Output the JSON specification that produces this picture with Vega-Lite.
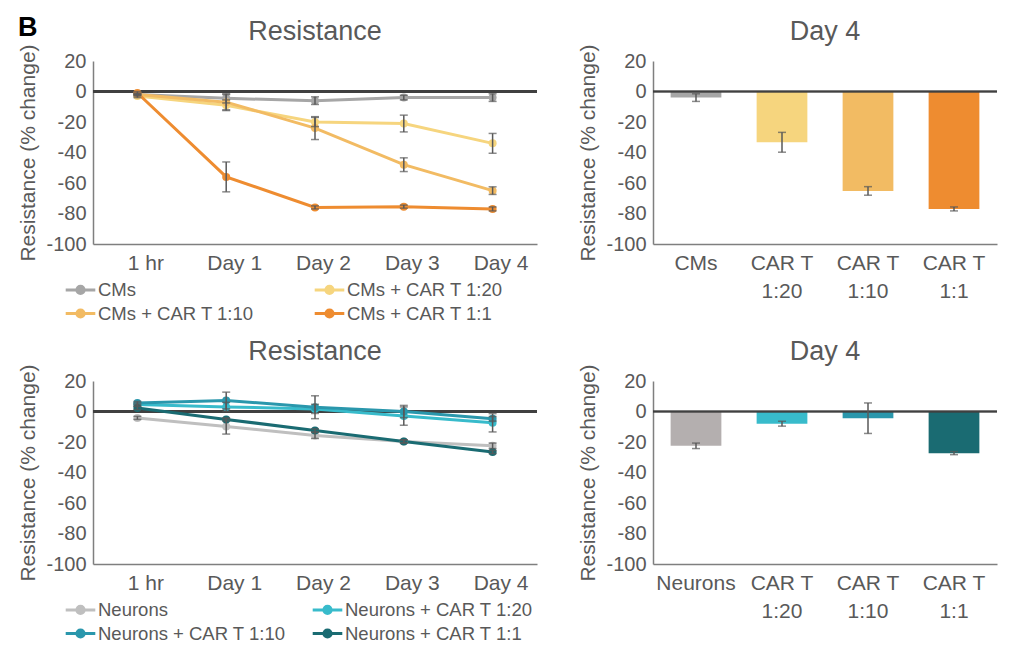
{
  "$schema": "https://vega.github.io/schema/vega-lite/v6.json",
  "background": "white",
  "padding": {"left": 17, "top": 14, "right": 5, "bottom": 5},
  "title": {"text": "B", "anchor": "start", "frame": "bounds", "fontSize": 27, "fontWeight": "bold", "color": "#000000", "offset": -24},
  "config": {
    "font": "Liberation Sans",
    "view": {"stroke": null},
    "axis": {
      "labelFontSize": 20, "labelColor": "#595959",
      "titleFontSize": 21, "titleFontWeight": "normal", "titleColor": "#595959",
      "domainColor": "#7f7f7f", "domainWidth": 1.5, "ticks": false, "grid": false
    },
    "axisY": {"labelPadding": 7, "titlePadding": 7, "labelExpr": "'' + datum.value"},
    "axisX": {"labelPadding": 8, "labelAngle": 0, "title": null, "labelFontSize": 21},
    "title": {"fontSize": 27, "fontWeight": "normal", "color": "#595959", "offset": -2.5},
    "legend": {
      "orient": "none", "columns": 2, "title": null, "padding": 0,
      "symbolType": "M-1.85,0L1.85,0M-0.45,0A0.45,0.45,0,1,1,0.45,0A0.45,0.45,0,1,1,-0.45,0",
      "symbolSize": 256, "symbolStrokeWidth": 3,
      "labelFontSize": 18.5, "labelColor": "#595959", "labelOffset": 8, "labelLimit": 400,
      "rowPadding": 3
    }
  },
  "datasets": {
    "cms": [
      {"t": "1 hr", "g": "CMs", "v": -2, "e": 0.5},
      {"t": "Day 1", "g": "CMs", "v": -4.5, "e": 3},
      {"t": "Day 2", "g": "CMs", "v": -6, "e": 2.5},
      {"t": "Day 3", "g": "CMs", "v": -4, "e": 1.5},
      {"t": "Day 4", "g": "CMs", "v": -4, "e": 2.5},
      {"t": "1 hr", "g": "CMs + CAR T 1:20", "v": -3, "e": 1},
      {"t": "Day 1", "g": "CMs + CAR T 1:20", "v": -9, "e": 3.5},
      {"t": "Day 2", "g": "CMs + CAR T 1:20", "v": -20, "e": 3},
      {"t": "Day 3", "g": "CMs + CAR T 1:20", "v": -21, "e": 5.5},
      {"t": "Day 4", "g": "CMs + CAR T 1:20", "v": -34, "e": 6.5},
      {"t": "1 hr", "g": "CMs + CAR T 1:10", "v": -2, "e": 1},
      {"t": "Day 1", "g": "CMs + CAR T 1:10", "v": -7, "e": 5},
      {"t": "Day 2", "g": "CMs + CAR T 1:10", "v": -24, "e": 7.5},
      {"t": "Day 3", "g": "CMs + CAR T 1:10", "v": -48, "e": 4.5},
      {"t": "Day 4", "g": "CMs + CAR T 1:10", "v": -65, "e": 2.5},
      {"t": "1 hr", "g": "CMs + CAR T 1:1", "v": -1, "e": 1},
      {"t": "Day 1", "g": "CMs + CAR T 1:1", "v": -56, "e": 9.8},
      {"t": "Day 2", "g": "CMs + CAR T 1:1", "v": -76, "e": 1},
      {"t": "Day 3", "g": "CMs + CAR T 1:1", "v": -75.5, "e": 1},
      {"t": "Day 4", "g": "CMs + CAR T 1:1", "v": -77, "e": 1.3}
    ],
    "neu": [
      {"t": "1 hr", "g": "Neurons", "v": -4.2, "e": 1},
      {"t": "Day 1", "g": "Neurons", "v": -9.8, "e": 5},
      {"t": "Day 2", "g": "Neurons", "v": -15.7, "e": 2},
      {"t": "Day 3", "g": "Neurons", "v": -19.6, "e": 1},
      {"t": "Day 4", "g": "Neurons", "v": -22.5, "e": 1.8},
      {"t": "1 hr", "g": "Neurons +  CAR T 1:20", "v": 4.6, "e": 1},
      {"t": "Day 1", "g": "Neurons +  CAR T 1:20", "v": 3, "e": 3},
      {"t": "Day 2", "g": "Neurons +  CAR T 1:20", "v": 1.7, "e": 3},
      {"t": "Day 3", "g": "Neurons +  CAR T 1:20", "v": -3, "e": 6},
      {"t": "Day 4", "g": "Neurons +  CAR T 1:20", "v": -7.4, "e": 6},
      {"t": "1 hr", "g": "Neurons +  CAR T 1:10", "v": 5.6, "e": 1},
      {"t": "Day 1", "g": "Neurons +  CAR T 1:10", "v": 7.2, "e": 5.5},
      {"t": "Day 2", "g": "Neurons +  CAR T 1:10", "v": 2.8, "e": 7.5},
      {"t": "Day 3", "g": "Neurons +  CAR T 1:10", "v": 0, "e": 4},
      {"t": "Day 4", "g": "Neurons +  CAR T 1:10", "v": -4.8, "e": 1.5},
      {"t": "1 hr", "g": "Neurons +  CAR T 1:1", "v": 2.3, "e": 1},
      {"t": "Day 1", "g": "Neurons +  CAR T 1:1", "v": -5.2, "e": 1},
      {"t": "Day 2", "g": "Neurons +  CAR T 1:1", "v": -12.4, "e": 1},
      {"t": "Day 3", "g": "Neurons +  CAR T 1:1", "v": -19.6, "e": 1},
      {"t": "Day 4", "g": "Neurons +  CAR T 1:1", "v": -26.6, "e": 1}
    ],
    "cmsBar": [
      {"g": "CMs", "v": -4, "e": 2.5},
      {"g": "CAR T|1:20", "v": -33.3, "e": 6.5},
      {"g": "CAR T|1:10", "v": -65.2, "e": 2.8},
      {"g": "CAR T|1:1", "v": -77, "e": 1.3}
    ],
    "neuBar": [
      {"g": "Neurons", "v": -22.5, "e": 1.8},
      {"g": "CAR T|1:20", "v": -8, "e": 1.6},
      {"g": "CAR T|1:10", "v": -4.4, "e": 10},
      {"g": "CAR T|1:1", "v": -27.3, "e": 1}
    ]
  },
  "bounds": "flush",
  "spacing": 320,
  "resolve": {"scale": {"color": "independent"}},
  "vconcat": [
    {
      "bounds": "flush",
      "spacing": 116,
      "resolve": {"scale": {"color": "independent"}},
      "hconcat": [
        {
          "width": 444, "height": 183,
          "title": "Resistance",
          "data": {"name": "cms"},
          "encoding": {
            "x": {"field": "t", "type": "ordinal", "sort": null, "scale": {"type": "point", "padding": 0.5}, "axis": {"labelOffset": 8}},
            "y": {"field": "v", "type": "quantitative", "scale": {"domain": [-100, 20], "nice": false},
                  "axis": {"values": [-100, -80, -60, -40, -20, 0, 20], "title": "Resistance (% change)"}}
          },
          "layer": [
            {"mark": {"type": "rule", "color": "#404040", "strokeWidth": 1.5}, "encoding": {"x": null, "y": {"datum": 0, "type": "quantitative"}}},
            {
              "mark": {"type": "line", "strokeWidth": 3, "point": {"filled": true, "size": 64}},
              "encoding": {
                "color": {"field": "g", "type": "nominal",
                  "scale": {"domain": ["CMs", "CMs + CAR T 1:10", "CMs + CAR T 1:20", "CMs + CAR T 1:1"],
                            "range": ["#a6a6a6", "#f2bb63", "#f6d57e", "#ee8c30"]},
                  "legend": {"legendX": -22, "legendY": 219, "columnPadding": 54}}
              }
            },
            {
              "mark": {"type": "errorbar", "ticks": {"size": 8}, "thickness": 1.5, "color": "#595959"},
              "encoding": {"yError": {"field": "e"}}
            }
          ]
        },
        {
          "width": 344, "height": 183,
          "title": "Day 4",
          "data": {"name": "cmsBar"},
          "encoding": {
            "x": {"field": "g", "type": "nominal", "sort": null, "scale": {"paddingInner": 0.41, "paddingOuter": 0.205},
                  "axis": {"labelExpr": "split(datum.value, '|')", "labelLineHeight": 28}},
            "y": {"field": "v", "type": "quantitative", "scale": {"domain": [-100, 20], "nice": false},
                  "axis": {"values": [-100, -80, -60, -40, -20, 0, 20], "title": "Resistance (% change)"}}
          },
          "layer": [
            {
              "mark": {"type": "bar"},
              "encoding": {
                "color": {"field": "g", "type": "nominal", "legend": null,
                  "scale": {"domain": ["CMs", "CAR T|1:20", "CAR T|1:10", "CAR T|1:1"],
                            "range": ["#a6a6a6", "#f6d57e", "#f2bb63", "#ee8c30"]}}
              }
            },
            {"mark": {"type": "rule", "color": "#404040", "strokeWidth": 1.5}, "encoding": {"x": null, "y": {"datum": 0, "type": "quantitative"}}},
            {
              "mark": {"type": "errorbar", "ticks": {"size": 8}, "thickness": 1.5, "color": "#595959"},
              "encoding": {"yError": {"field": "e"}}
            }
          ]
        }
      ]
    },
    {
      "bounds": "flush",
      "spacing": 116,
      "resolve": {"scale": {"color": "independent"}},
      "hconcat": [
        {
          "width": 444, "height": 183,
          "title": "Resistance",
          "data": {"name": "neu"},
          "encoding": {
            "x": {"field": "t", "type": "ordinal", "sort": null, "scale": {"type": "point", "padding": 0.5}, "axis": {"labelOffset": 8}},
            "y": {"field": "v", "type": "quantitative", "scale": {"domain": [-100, 20], "nice": false},
                  "axis": {"values": [-100, -80, -60, -40, -20, 0, 20], "title": "Resistance (% change)"}}
          },
          "layer": [
            {"mark": {"type": "rule", "color": "#404040", "strokeWidth": 1.5}, "encoding": {"x": null, "y": {"datum": 0, "type": "quantitative"}}},
            {
              "mark": {"type": "line", "strokeWidth": 3, "point": {"filled": true, "size": 64}},
              "encoding": {
                "color": {"field": "g", "type": "nominal",
                  "scale": {"domain": ["Neurons", "Neurons +  CAR T 1:10", "Neurons +  CAR T 1:20", "Neurons +  CAR T 1:1"],
                            "range": ["#bfbfbf", "#2a97ac", "#38bbcb", "#1a6b72"]},
                  "legend": {"legendX": -22, "legendY": 219, "columnPadding": 15}}
              }
            },
            {
              "mark": {"type": "errorbar", "ticks": {"size": 8}, "thickness": 1.5, "color": "#595959"},
              "encoding": {"yError": {"field": "e"}}
            }
          ]
        },
        {
          "width": 344, "height": 183,
          "title": "Day 4",
          "data": {"name": "neuBar"},
          "encoding": {
            "x": {"field": "g", "type": "nominal", "sort": null, "scale": {"paddingInner": 0.41, "paddingOuter": 0.205},
                  "axis": {"labelExpr": "split(datum.value, '|')", "labelLineHeight": 28}},
            "y": {"field": "v", "type": "quantitative", "scale": {"domain": [-100, 20], "nice": false},
                  "axis": {"values": [-100, -80, -60, -40, -20, 0, 20], "title": "Resistance (% change)"}}
          },
          "layer": [
            {
              "mark": {"type": "bar"},
              "encoding": {
                "color": {"field": "g", "type": "nominal", "legend": null,
                  "scale": {"domain": ["Neurons", "CAR T|1:20", "CAR T|1:10", "CAR T|1:1"],
                            "range": ["#b4afaf", "#38bbcb", "#2a97ac", "#1a6b72"]}}
              }
            },
            {"mark": {"type": "rule", "color": "#404040", "strokeWidth": 1.5}, "encoding": {"x": null, "y": {"datum": 0, "type": "quantitative"}}},
            {
              "mark": {"type": "errorbar", "ticks": {"size": 8}, "thickness": 1.5, "color": "#595959"},
              "encoding": {"yError": {"field": "e"}}
            }
          ]
        }
      ]
    }
  ]
}
